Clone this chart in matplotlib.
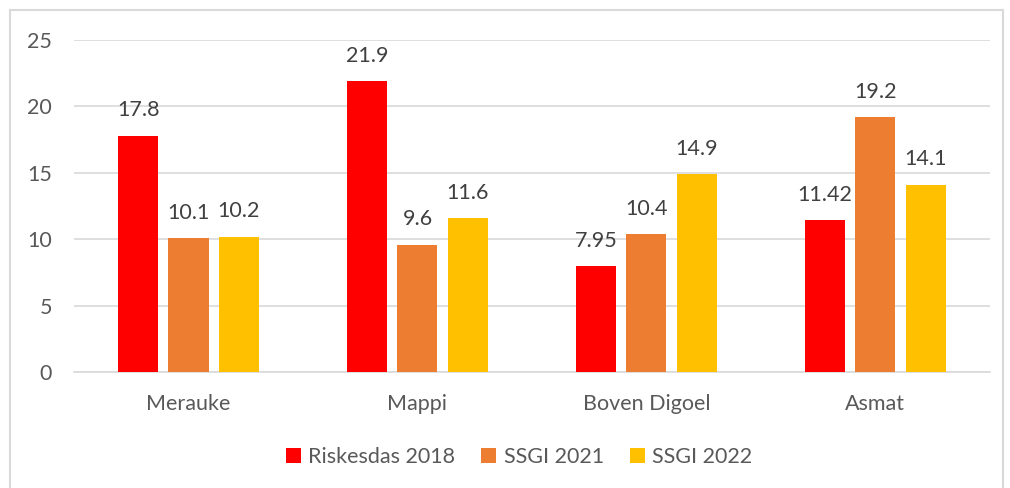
import numpy as np
import matplotlib
matplotlib.use('Agg')
import matplotlib.pyplot as plt
from matplotlib.patches import Rectangle

plt.rcParams['font.family'] = ['Lato', 'DejaVu Sans']

regions = ['Merauke', 'Mappi', 'Boven Digoel', 'Asmat']
riskesdas_2018 = [17.8, 21.9, 7.95, 11.42]
ssgi_2021 = [10.1, 9.6, 10.4, 19.2]
ssgi_2022 = [10.2, 11.6, 14.9, 14.1]
value_labels = [['17.8', '21.9', '7.95', '11.42'],
                ['10.1', '9.6', '10.4', '19.2'],
                ['10.2', '11.6', '14.9', '14.1']]

series = [('Riskesdas 2018', riskesdas_2018, '#FF0000'),
          ('SSGI 2021', ssgi_2021, '#ED7D31'),
          ('SSGI 2022', ssgi_2022, '#FFC000')]

text_color = '#595959'
grid_color = '#D9D9D9'
fs = 15.5

fig = plt.figure(figsize=(10.1, 4.88), dpi=100)
ax = fig.add_axes([0.0733, 0.2377, 0.9067, 0.6803])

# light frame around the whole chart area
fig.patches.append(Rectangle((10 / 1010, -0.05), 993 / 1010, 1 - 10 / 488 + 0.05,
                             transform=fig.transFigure, fill=False,
                             edgecolor=grid_color, linewidth=1.5))

x = np.arange(len(regions))
width = 0.175
offset = 0.22

for i, (name, vals, color) in enumerate(series):
    pos = x + (i - 1) * offset
    bars = ax.bar(pos, vals, width, color=color, label=name, zorder=3)
    for b, lab in zip(bars, value_labels[i]):
        ax.annotate(lab, (b.get_x() + b.get_width() / 2, b.get_height()),
                    xytext=(0, 11), textcoords='offset points',
                    ha='center', va='bottom', fontsize=fs, color='#404040')

ax.set_xlim(-0.5, 3.5)
ax.set_ylim(0, 25)
ax.set_yticks([0, 5, 10, 15, 20, 25])
ax.set_xticks(x)
ax.set_xticklabels(regions)
ax.tick_params(axis='y', length=0, pad=16, labelsize=fs, labelcolor=text_color)
ax.tick_params(axis='x', length=0, pad=16, labelsize=fs, labelcolor=text_color)

ax.yaxis.grid(True, color=grid_color, linewidth=1.2, zorder=0)
for s in ['top', 'right', 'left']:
    ax.spines[s].set_visible(False)
ax.spines['bottom'].set_color(grid_color)
ax.spines['bottom'].set_linewidth(1.2)

leg = fig.legend(loc='center', bbox_to_anchor=(0.5 + 14 / 1010, 1 - 457 / 488), ncol=3,
                 frameon=False, fontsize=fs, handlelength=0.7, handleheight=0.7,
                 handletextpad=0.35, columnspacing=1.2)
for t in leg.get_texts():
    t.set_color(text_color)

fig.savefig('out.png', dpi=100)
